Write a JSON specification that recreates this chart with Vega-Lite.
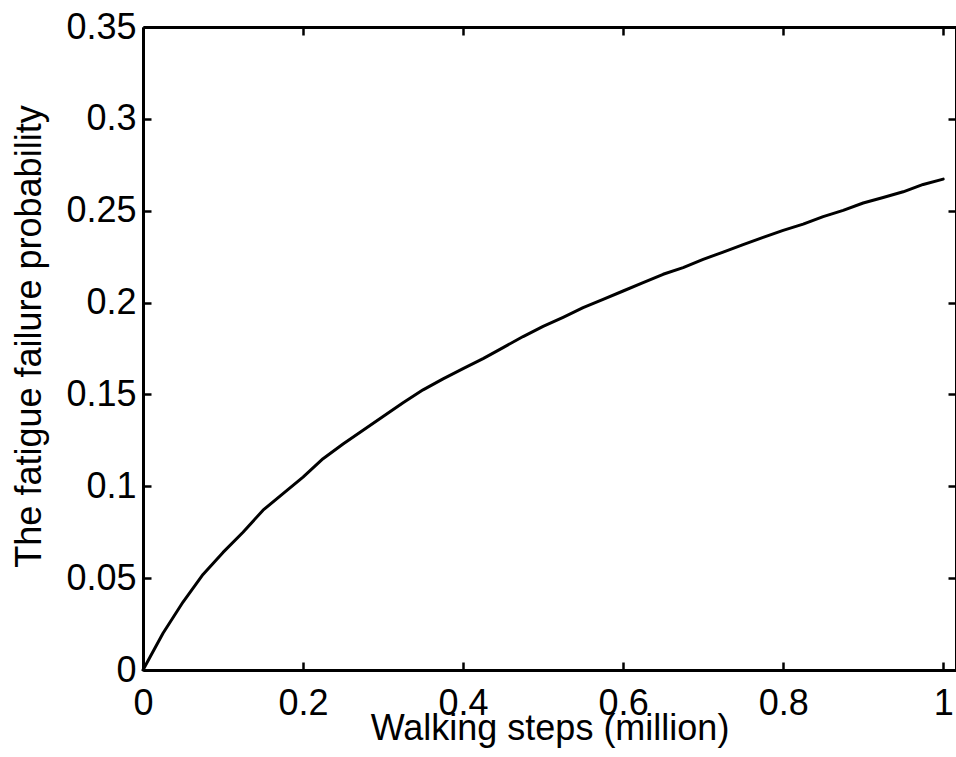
{
  "$schema": "https://vega.github.io/schema/vega-lite/v6.json",
  "width": 813,
  "height": 643,
  "autosize": "none",
  "padding": {"left": 143, "top": 27, "right": 0, "bottom": 87},
  "background": "white",
  "config": {
    "view": {"stroke": null},
    "font": "Liberation Sans",
    "axis": {
      "grid": false,
      "domainColor": "black",
      "domainWidth": 3,
      "tickColor": "black",
      "tickWidth": 2.5,
      "tickSize": -8,
      "labelColor": "black",
      "labelFont": "Liberation Sans",
      "labelFontSize": 36,
      "titleFont": "Liberation Sans",
      "titleFontSize": 36,
      "titleFontWeight": "normal",
      "titleColor": "black"
    }
  },
  "data": {
    "values": [
      {"steps": 0, "prob": 0},
      {"steps": 0.025, "prob": 0.02},
      {"steps": 0.05, "prob": 0.037},
      {"steps": 0.075, "prob": 0.052},
      {"steps": 0.1, "prob": 0.064},
      {"steps": 0.125, "prob": 0.075},
      {"steps": 0.15, "prob": 0.087},
      {"steps": 0.175, "prob": 0.096},
      {"steps": 0.2, "prob": 0.105},
      {"steps": 0.225, "prob": 0.115},
      {"steps": 0.25, "prob": 0.123},
      {"steps": 0.275, "prob": 0.1305},
      {"steps": 0.3, "prob": 0.138},
      {"steps": 0.325, "prob": 0.1455},
      {"steps": 0.35, "prob": 0.1525},
      {"steps": 0.375, "prob": 0.1585},
      {"steps": 0.4, "prob": 0.164},
      {"steps": 0.425, "prob": 0.1695},
      {"steps": 0.45, "prob": 0.1755},
      {"steps": 0.475, "prob": 0.1815},
      {"steps": 0.5, "prob": 0.187},
      {"steps": 0.525, "prob": 0.192},
      {"steps": 0.55, "prob": 0.1972},
      {"steps": 0.575, "prob": 0.2018},
      {"steps": 0.6, "prob": 0.2063},
      {"steps": 0.625, "prob": 0.2108},
      {"steps": 0.65, "prob": 0.2154},
      {"steps": 0.675, "prob": 0.219},
      {"steps": 0.7, "prob": 0.2235},
      {"steps": 0.725, "prob": 0.2275},
      {"steps": 0.75, "prob": 0.2315},
      {"steps": 0.775, "prob": 0.2355},
      {"steps": 0.8, "prob": 0.2393},
      {"steps": 0.825, "prob": 0.2427},
      {"steps": 0.85, "prob": 0.2468},
      {"steps": 0.875, "prob": 0.2502},
      {"steps": 0.9, "prob": 0.2542},
      {"steps": 0.925, "prob": 0.2572},
      {"steps": 0.95, "prob": 0.2603},
      {"steps": 0.975, "prob": 0.2643},
      {"steps": 1.0, "prob": 0.2672}
    ]
  },
  "layer": [
    {
      "mark": {"type": "line", "color": "black", "strokeWidth": 3, "strokeJoin": "round", "strokeCap": "round"},
      "encoding": {
        "x": {
          "field": "steps", "type": "quantitative",
          "scale": {"domain": [0, 1.016], "nice": false, "zero": false},
          "axis": {"orient": "bottom", "values": [0, 0.2, 0.4, 0.6, 0.8, 1], "format": "~g", "labelPadding": 24, "title": "Walking steps (million)", "titlePadding": -10, "labelFlush": false}
        },
        "y": {
          "field": "prob", "type": "quantitative",
          "scale": {"domain": [0, 0.35], "nice": false, "zero": false},
          "axis": {"orient": "left", "values": [0, 0.05, 0.1, 0.15, 0.2, 0.25, 0.3, 0.35], "format": "~g", "labelPadding": 15, "title": "The fatigue failure probability", "titlePadding": 17, "titleY": 309, "labelFlush": false}
        }
      }
    },
    {
      "mark": {"type": "line", "opacity": 0},
      "encoding": {
        "x": {
          "field": "steps", "type": "quantitative",
          "axis": {"orient": "top", "values": [0, 0.2, 0.4, 0.6, 0.8, 1], "labels": false, "title": null}
        },
        "y": {
          "field": "prob", "type": "quantitative",
          "axis": {"orient": "right", "values": [0, 0.05, 0.1, 0.15, 0.2, 0.25, 0.3, 0.35], "labels": false, "title": null}
        }
      }
    }
  ],
  "resolve": {"axis": {"x": "independent", "y": "independent"}}
}
